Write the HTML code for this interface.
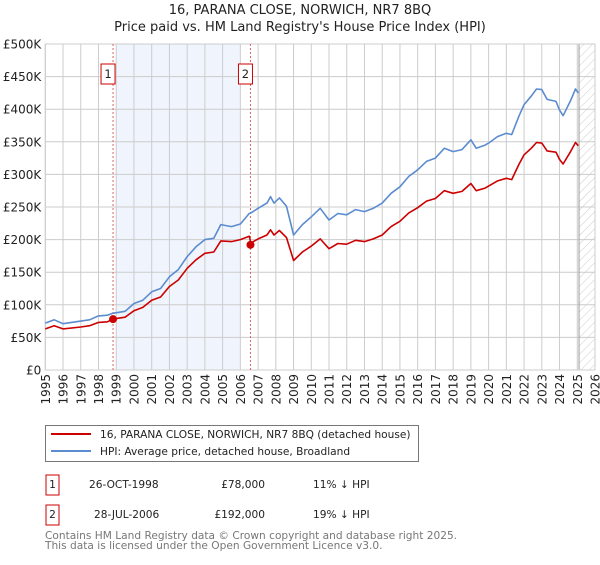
<!DOCTYPE html>
<html><head><meta charset="utf-8"><style>
body{margin:0;background:#fff;font-family:"Liberation Sans","DejaVu Sans",sans-serif;}
svg text{font-family:"DejaVu Sans","Liberation Sans",sans-serif;}
</style></head><body>
<svg id="c" width="600" height="560" xmlns="http://www.w3.org/2000/svg">
<defs><pattern id="hatch" width="6" height="6" patternUnits="userSpaceOnUse" patternTransform="rotate(45)"><line x1="0" y1="0" x2="0" y2="6" stroke="#ccc" stroke-width="1"/></pattern></defs>
<text x="300" y="14" text-anchor="middle" font-size="13" fill="#222">16, PARANA CLOSE, NORWICH, NR7 8BQ</text>
<text x="300" y="31" text-anchor="middle" font-size="13" fill="#222">Price paid vs. HM Land Registry's House Price Index (HPI)</text>
<g id="grid"></g><g id="marks"></g>
<g>
<rect x="45.5" y="425.5" width="373" height="36" fill="#fff" stroke="#777"/>
<line x1="51" y1="434" x2="91" y2="434" stroke="#cc0000" stroke-width="2"/>
<text x="100" y="438" font-size="10.6" fill="#222">16, PARANA CLOSE, NORWICH, NR7 8BQ (detached house)</text>
<line x1="51" y1="451" x2="91" y2="451" stroke="#5b8ccf" stroke-width="2"/>
<text x="100" y="455" font-size="10.6" fill="#222">HPI: Average price, detached house, Broadland</text>
</g>
<g font-size="10.6" fill="#222">
<rect x="46" y="475" width="13" height="20" fill="#fff" stroke="#cc0000"/><text x="52.5" y="488" text-anchor="middle">1</text>
<text x="89" y="488">26-OCT-1998</text><text x="265" y="488" text-anchor="end">£78,000</text><text x="313" y="488">11% ↓ HPI</text>
<rect x="46" y="505" width="13" height="20" fill="#fff" stroke="#cc0000"/><text x="52.5" y="518" text-anchor="middle">2</text>
<text x="94" y="518">28-JUL-2006</text><text x="265" y="518" text-anchor="end">£192,000</text><text x="313" y="518">19% ↓ HPI</text>
</g>
<text x="45" y="539" font-size="10.6" fill="#777">Contains HM Land Registry data © Crown copyright and database right 2025.</text>
<text x="45" y="549" font-size="10.6" fill="#777">This data is licensed under the Open Government Licence v3.0.</text>
</svg>
<script>
const yTicks=[0,50,100,150,200,250,300,350,400,450,500];
const yearTicks=[1995,1996,1997,1998,1999,2000,2001,2002,2003,2004,2005,2006,2007,2008,2009,2010,2011,2012,2013,2014,2015,2016,2017,2018,2019,2020,2021,2022,2023,2024,2025,2026];
const dates=[1995,1995.5,1996,1997,1997.5,1998,1998.5,1998.8,1999.5,2000,2000.5,2001,2001.5,2002,2002.5,2003,2003.5,2004,2004.5,2004.9,2005.5,2006,2006.5,2006.6,2007,2007.5,2007.7,2007.9,2008.2,2008.6,2009,2009.5,2010,2010.5,2011,2011.5,2012,2012.5,2013,2013.5,2014,2014.5,2015,2015.5,2016,2016.5,2017,2017.5,2018,2018.5,2019,2019.3,2019.8,2020,2020.5,2021,2021.3,2021.7,2022,2022.4,2022.7,2023,2023.3,2023.8,2024,2024.2,2024.6,2024.9,2025.05];
const hpi=[72,77,71,75,77,83,84,87,90,102,107,120,125,143,154,174,189,200,202,223,220,224,240,241,248,256,266,256,264,251,207,223,235,248,230,240,238,246,243,248,256,271,281,297,307,320,325,340,335,338,353,340,345,348,358,363,361,389,407,420,431,430,415,412,399,390,412,431,425];
const price=[63,68,63,66,68,73,74,78,81,91,96,107,112,128,138,156,169,179,181,198,197,200,205,195,201,207,215,207,214,203,168,181,190,201,186,194,193,199,197,201,207,220,228,241,249,259,263,275,271,274,286,275,279,282,290,294,292,315,330,340,349,348,336,334,323,316,334,349,344];
const saleDates=[1998.82,2006.57];
const salePrices=[78,192];
const saleLabels=["1","2"];
const band=[1999.0,2006.0];
const L=45.3,R=595,T=44,B=370,X0=1995,X1=2026,YM=500;
const x=v=>L+(v-X0)/(X1-X0)*(R-L);
const y=v=>B-v/YM*(B-T);
const NS="http://www.w3.org/2000/svg";
function mk(p,t,a){const e=document.createElementNS(NS,t);for(const k in a)e.setAttribute(k,a[k]);p.appendChild(e);return e;}
const g=document.getElementById('grid'),m=document.getElementById('marks');
const bg=mk(g,'rect',{x:x(band[0]),y:T,width:x(band[1])-x(band[0]),height:B-T,fill:'#f0f4fd'});


yTicks.forEach(v=>{
 const l=mk(g,'line',{x1:L,x2:R,y1:y(v),y2:y(v),stroke:'#ccc','stroke-width':1});
 
 
 const t=mk(g,'text',{x:L-4,y:y(v)+4.5,'text-anchor':'end','font-size':12,fill:'#222'});
 t.textContent=v===0?'£0':'£'+v+'K';
 
 
});
yearTicks.forEach(v=>{
 const l=mk(g,'line',{x1:x(v),x2:x(v),y1:T,y2:B,stroke:'#ccc','stroke-width':1});
 
 
 const t=mk(g,'text',{x:0,y:0,'text-anchor':'end','font-size':12,fill:'#222',transform:`translate(${x(v)+4.5},${B+4}) rotate(-90)`});
 t.textContent=v;
 
 
});
const hx=x(2025.1);
const h=mk(g,'rect',{x:hx,y:T,width:R-hx,height:B-T,fill:'url(#hatch)',stroke:'none'});


mk(g,'line',{x1:hx,x2:hx,y1:T,y2:B,stroke:'#999','stroke-width':1});
mk(g,'rect',{x:L,y:T,width:R-L,height:B-T,fill:'none',stroke:'#ccc'});
saleDates.forEach((d,i)=>{
 const l=mk(m,'line',{x1:x(d),x2:x(d),y1:T,y2:B,stroke:'#e06060','stroke-width':1,'stroke-dasharray':'2,2'});
 
 
});
function path(vals,color,name){
 const p=mk(m,'path',{d:dates.map((d,i)=>(i?'L':'M')+x(d).toFixed(1)+','+y(vals[i]).toFixed(1)).join(''),fill:'none',stroke:color,'stroke-width':1.6,'stroke-linejoin':'round'});
 
 
}
path(hpi,'#5b8ccf','hpi-line');
path(price,'#cc0000','property-price-line');
saleDates.forEach((d,i)=>{
 const c=mk(m,'circle',{cx:x(d),cy:y(salePrices[i]),r:4,fill:'#cc0000'});
 
 
 const bx=x(d)-12;
 const r=mk(m,'rect',{x:bx,y:64,width:14,height:20,fill:'#fff',stroke:'#cc0000'});
 
 
 const t=mk(m,'text',{x:bx+7,y:78,'text-anchor':'middle','font-size':11.5,fill:'#222'});
 t.textContent=saleLabels[i];
 
 
});
</script>
</body></html>
